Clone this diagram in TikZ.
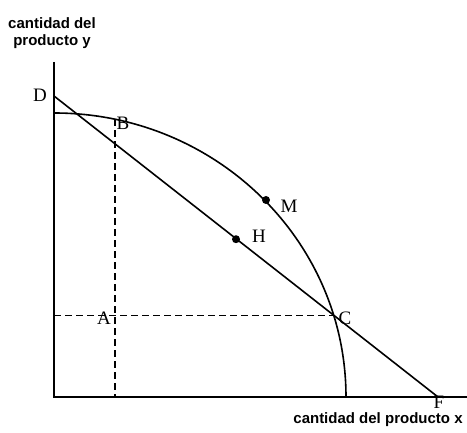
\documentclass[tikz,border=0pt]{standalone}
\usepackage{fontspec}
\setmainfont{Liberation Serif}
\newfontfamily\axfont{Liberation Sans}
\begin{document}
\begin{tikzpicture}[x=1pt,y=1pt,
  pt/.style={font=\fontsize{19}{19}\selectfont, inner sep=0pt},
  axlab/.style={font=\axfont\bfseries\fontsize{15}{17}\selectfont, inner sep=0pt, align=center},
  axisline/.style={line width=2.2pt},
  curveline/.style={line width=1.6pt},
  guide/.style={line width=1.4pt, dash pattern=on 7pt off 4pt},
  dotmark/.style={circle, fill=black, inner sep=0pt, minimum size=8pt}]
\useasboundingbox (0,0) rectangle (467,433);
% coordinates
\coordinate (O) at (54,36);
\coordinate (Ytop) at (54,371);
\coordinate (Xend) at (467,36);
\coordinate (Dp) at (54,337);
\coordinate (Fp) at (438,36);
\coordinate (Bp) at (115,313.7);
\coordinate (Bb) at (115,36);
\coordinate (Cp) at (333.7,117.5);
\coordinate (Ca) at (54,117.5);
% axes
\draw[axisline] (Ytop) -- (O) -- (Xend);
% frontier (quarter ellipse)
\draw[curveline] (346,36) arc[start angle=0, end angle=90, x radius=292, y radius=284];
% budget line
\draw[curveline] (Dp) -- (Fp);
% dashed guides
\draw[guide] (Bp) -- (Bb);
\draw[guide] (Ca) -- (Cp);
% dots
\node[dotmark] (Mdot) at (266,233) {};
\node[dotmark] (Hdot) at (236,193.8) {};
% labels
\node[pt] (D) at (40,338) {D};
\node[pt] (B) at (123,310) {B};
\node[pt] (M) at (289,227) {M};
\node[pt] (H) at (259,197) {H};
\node[pt] (C) at (345,115) {C};
\node[pt] (A) at (104,115) {A};
\node[pt] (F) at (439,31) {F};
\node[axlab] (ylab) at (52,400) {cantidad del\\producto y};
\node[axlab] (xlab) at (378,13) {cantidad del producto x};
\end{tikzpicture}
\end{document}
